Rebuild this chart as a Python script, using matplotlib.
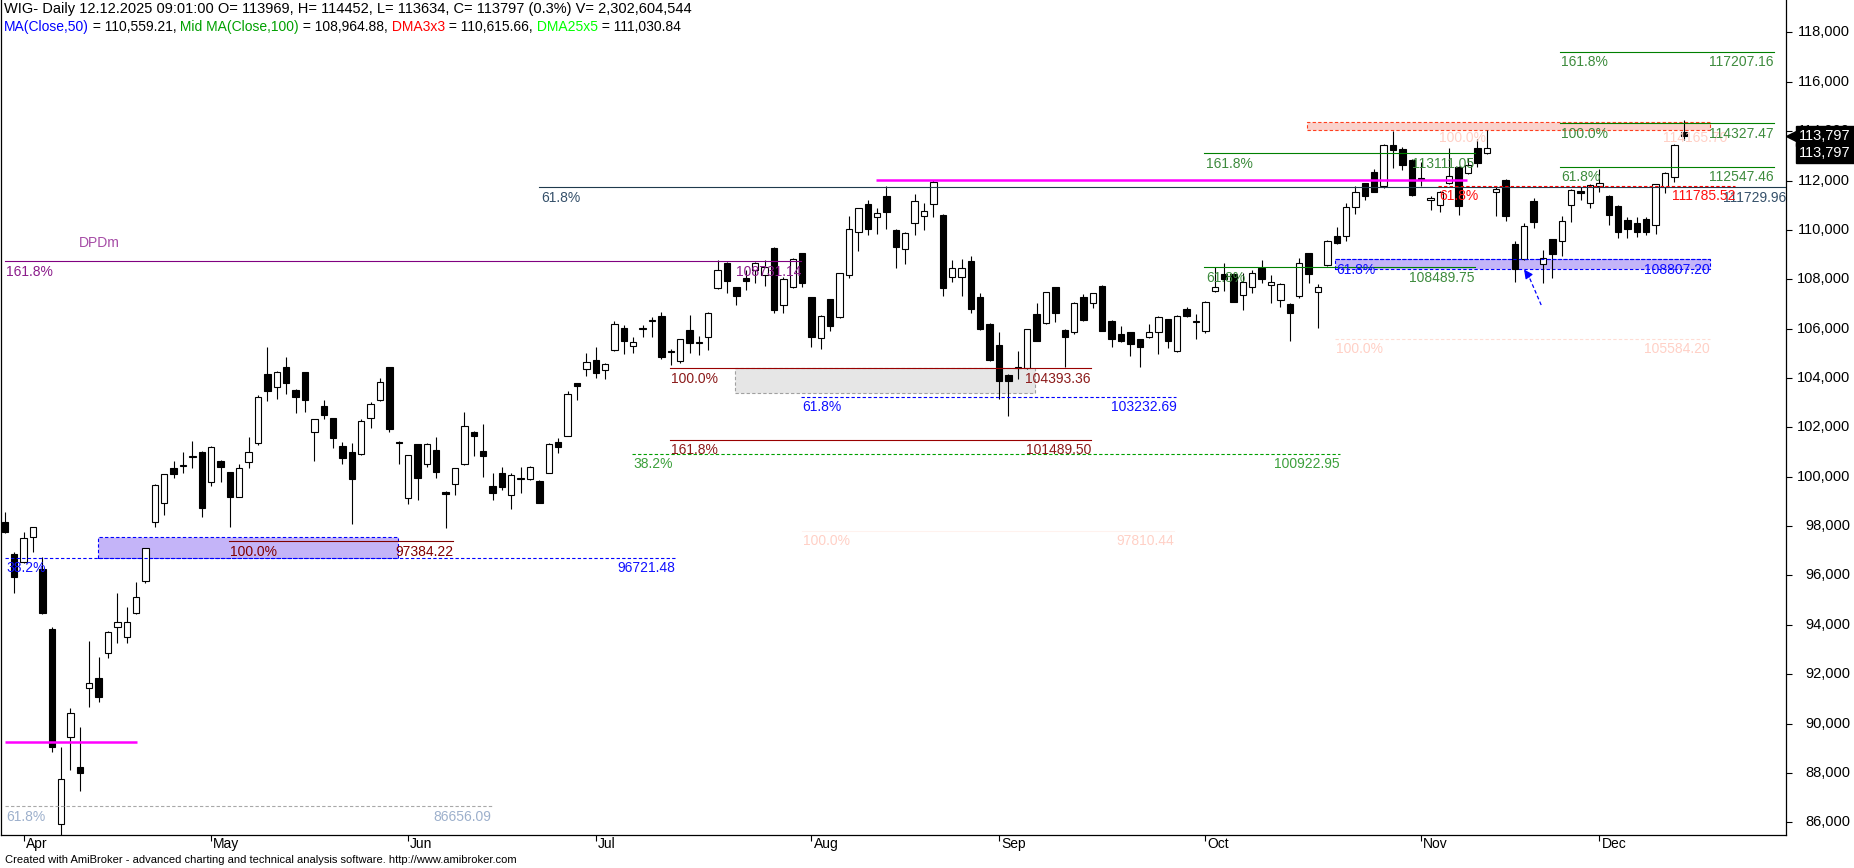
import matplotlib
matplotlib.use('Agg')
import matplotlib.pyplot as plt
import matplotlib.transforms as mtransforms
from matplotlib.patches import Rectangle

FONT = 'Liberation Sans'
plt.rcParams['font.family'] = [FONT, 'DejaVu Sans']

# ---------------- data (WIG daily, 28 Mar 2025 - 12 Dec 2025) ----------------
opens = [98178, 96869, 96533, 97546, 96249, 93819, 85918, 89467, 88252, 91428,
         91833, 92871, 93900, 93494, 94467, 95788, 98178, 98923, 100341, 100440,
         100800, 101014, 99774, 100637, 100179, 99191, 100584, 101354, 104150, 103623,
         104433, 103514, 104231, 101824, 102865, 102367, 101257, 101014, 100908, 102367,
         103108, 104433, 101419, 99126, 101314, 100503, 101083, 99393, 99705, 100503,
         101800, 101042, 99624, 100139, 99260, 99890, 99896, 99827, 100163, 101419,
         101662, 103785, 104352, 104729, 104324, 105134, 106013, 105308, 105990, 106300,
         106512, 105106, 104701, 105944, 105430, 105649, 107634, 108647, 107674, 108039,
         108375, 108173, 109279, 106957, 107699, 109052, 107269, 105608, 107188, 106483,
         108173, 109903, 111037, 110510, 111373, 109996, 109214, 110267, 110575, 111049,
         110603, 108104, 108104, 108740, 107269, 106187, 105337, 104121, 104400, 104393,
         106593, 106216, 107674, 105944, 105876, 107269, 107026, 107727, 106309, 105770,
         105851, 105568, 105673, 105851, 106378, 105094, 106795, 106256, 105916, 107512,
         108213, 108213, 107362, 107674, 108444, 107768, 107160, 106998, 107322, 109052,
         107472, 108578, 109765, 109753, 110916, 111888, 112333, 111791, 113439, 113277,
         112832, 112110, 111211, 111009, 111888, 112560, 112293, 113306, 113103, 111523,
         112021, 109416, 108809, 111183, 108606, 109619, 109550, 111009, 111590, 111078,
         111791, 111386, 110980, 110406, 110292, 110429, 110198, 111750, 112131, 113969]
highs = [98559, 96962, 97748, 97980, 96760, 93900, 89062, 90618, 89848, 93345,
         92684, 93750, 95277, 94734, 95747, 97130, 99690, 100130, 100649, 101014,
         101447, 101050, 101230, 100660, 100200, 100515, 101597, 103311, 105268, 104280,
         104863, 103560, 104255, 102350, 103108, 102390, 101395, 101380, 102340, 103039,
         103988, 104460, 101440, 100900, 101340, 101380, 101622, 99420, 100370, 102610,
         101840, 102136, 100139, 100382, 100139, 100382, 100420, 99860, 101370, 101557,
         103473, 103810, 105025, 105268, 104620, 106321, 106147, 105649, 106147, 106459,
         106661, 105160, 105600, 106552, 105701, 106670, 108780, 108680, 107700, 108375,
         108680, 108780, 109300, 108104, 108850, 109080, 107300, 106560, 107220, 108270,
         110563, 110900, 111211, 110875, 111778, 110020, 109910, 111454, 111102, 112020,
         110630, 108780, 108810, 108942, 107456, 106210, 105876, 104150, 105094, 106000,
         107051, 107500, 107700, 105970, 107080, 107403, 107460, 107750, 106340, 106106,
         105880, 105600, 106187, 106510, 106400, 106550, 106864, 106593, 107130, 108509,
         108647, 108240, 108241, 108375, 108780, 108173, 107860, 107020, 108849, 109080,
         107808, 109590, 110105, 111102, 111791, 111920, 112455, 113470, 114019, 113371,
         112860, 112763, 111386, 111570, 113306, 112590, 112901, 113670, 114047, 111750,
         112050, 109562, 110292, 111304, 109186, 109650, 110575, 111650, 111750, 111850,
         112455, 111420, 111010, 110535, 110535, 110535, 111870, 112340, 113470, 114452]
lows = [97708, 95301, 96500, 96962, 94440, 88860, 85300, 88118, 87280, 90683,
        90885, 92644, 93276, 93276, 94440, 95682, 97975, 98449, 99936, 100139,
        100366, 98356, 99624, 99798, 97951, 99160, 100341, 101285, 103080, 103149,
        103351, 102570, 102634, 100649, 102326, 101152, 100503, 98085, 100880, 101962,
        103080, 101824, 100515, 98895, 99057, 100382, 99936, 97910, 99260, 100480,
        100852, 100001, 99057, 99462, 98680, 99353, 99860, 98923, 100140, 100973,
        101640, 103108, 104081, 103988, 103959, 105100, 104960, 105025, 105649, 105649,
        104757, 104526, 104620, 105025, 104932, 105134, 107600, 107456, 106957, 107565,
        107836, 107727, 106645, 106621, 107634, 107674, 105243, 105163, 105916, 106440,
        108039, 109145, 109793, 109834, 110024, 108468, 108606, 109793, 109996, 110510,
        107334, 107901, 107334, 106621, 105960, 104700, 103137, 102472, 103947, 104360,
        105480, 106190, 106256, 104457, 105782, 106320, 106824, 105890, 105268, 105446,
        104903, 104457, 105640, 104972, 105203, 105070, 106480, 105568, 105811, 107480,
        107537, 107060, 106755, 107431, 107836, 107051, 106888, 105511, 107225, 107861,
        106013, 108550, 109430, 109562, 110632, 111211, 111520, 111685, 112495, 112430,
        111373, 111778, 110806, 110737, 111860, 110603, 112260, 112560, 113070, 110575,
        110373, 107877, 108770, 110065, 107836, 108039, 108955, 110332, 111211, 110875,
        111547, 110198, 109659, 109659, 109724, 109800, 109834, 111507, 111953, 113634]
closes = [97773, 95925, 97505, 97951, 94467, 89062, 87754, 90415, 87984, 91655,
          91088, 93721, 94126, 94126, 95139, 97100, 99652, 100098, 100110, 100460,
          100820, 98721, 101192, 100406, 99166, 100341, 100989, 103218, 103485, 104255,
          103785, 103218, 103108, 102326, 102501, 101557, 100746, 99896, 102270, 102934,
          103825, 101921, 101380, 100868, 99936, 101344, 100204, 99288, 100341, 102067,
          101662, 100852, 99325, 99571, 100070, 99930, 100382, 98948, 101344, 101192,
          103339, 103688, 104660, 104190, 104567, 106175, 105511, 105446, 106030, 106340,
          104863, 105050, 105568, 105430, 105460, 106645, 108375, 107942, 107334, 107942,
          108647, 108485, 106755, 107998, 108821, 107836, 105649, 106524, 106119, 108242,
          110024, 110875, 110036, 110672, 110737, 109319, 109886, 111183, 110766, 111953,
          107634, 108468, 108468, 106795, 105985, 104729, 103890, 103890, 104430, 105973,
          105511, 107472, 106621, 105649, 107051, 106350, 107431, 105916, 105568, 105511,
          105365, 105268, 105851, 106483, 105511, 106524, 106512, 106321, 107091, 107674,
          107998, 107091, 107901, 108266, 107998, 107901, 107808, 106621, 108671, 108201,
          107699, 109562, 109457, 110916, 111523, 111373, 111547, 113439, 113237, 112629,
          111414, 112070, 111304, 111547, 112184, 110968, 112629, 112722, 113306, 111645,
          110575, 108404, 110170, 110332, 108874, 109023, 110373, 111617, 111482, 111819,
          111888, 110603, 109903, 110024, 109927, 109927, 111847, 112317, 113439, 113797]

month_labels = ['Apr', 'May', 'Jun', 'Jul', 'Aug', 'Sep', 'Oct', 'Nov', 'Dec']
month_start_idx = [2, 22, 43, 63, 86, 106, 128, 151, 170]
price_ticks = list(range(86000, 118001, 2000))

title_line1 = "WIG- Daily 12.12.2025 09:01:00 O= 113969, H= 114452, L= 113634, C= 113797 (0.3%) V= 2,302,604,544"
title_line2 = [("MA(Close,50)", '#0000FF'), (" = 110,559.21,", '#000000'),
               (" Mid MA(Close,100)", '#00A000'), (" = 108,964.88,", '#000000'),
               (" DMA3x3", '#FF0000'), (" = 110,615.66,", '#000000'),
               (" DMA25x5", '#00FF00'), (" = 111,030.84", '#000000')]

X_RIGHT = 189.9

# Fibonacci / drawing tools: (start bar, end bar, level, left label, right label, line colour, text colour, style)
fib_lines = [
    (0.0, 84.9, 108731.14, '161.8%', '108731.14', '#800080', '#8B1C8B', '-'),
    (0.0, 51.9, 86656.09, '61.8%', '86656.09', '#A8A8A8', '#9DB0CC', '--'),
    (0.0, 71.5, 96721.48, '38.2%', '96721.48', '#0000FF', '#1010FF', '--'),
    (23.9, 47.8, 97384.22, '100.0%', '97384.22', '#800000', '#800000', '-'),
    (57.0, X_RIGHT, 111729.96, '61.8%', '111729.96', '#1F3A4D', '#35506A', '-'),
    (70.9, 115.8, 104393.36, '100.0%', '104393.36', '#990000', '#8B1A1A', '-'),
    (84.9, 124.9, 103232.69, '61.8%', '103232.69', '#0000FF', '#1010FF', '--'),
    (70.9, 115.8, 101489.50, '161.8%', '101489.50', '#990000', '#8B1A1A', '-'),
    (66.9, 142.3, 100922.95, '38.2%', '100922.95', '#00A000', '#3CA03C', '--'),
    (85.0, 124.7, 97810.44, '100.0%', '97810.44', '#FFF2EE', '#FFD0C6', '-'),
    (127.9, 156.7, 113111.05, '161.8%', '113111.05', '#008000', '#3D8B3D', '-'),
    (127.9, 156.7, 108489.75, '61.8%', '108489.75', '#008000', '#3D8B3D', '-'),
    (141.8, 181.8, 108807.20, '61.8%', '108807.20', '#0000FF', '#1010FF', '--'),
    (152.8, 184.5, 111785.52, '61.8%', '111785.52', '#FF0000', '#FF1010', '--'),
    (152.8, 183.7, 114165.70, '100.0%', '114165.70', None, '#FFD0C6', '-'),
    (165.8, 188.6, 117207.16, '161.8%', '117207.16', '#008000', '#3D8B3D', '-'),
    (165.8, 188.6, 114327.47, '100.0%', '114327.47', '#008000', '#3D8B3D', '-'),
    (165.8, 188.6, 112547.46, '61.8%', '112547.46', '#008000', '#3D8B3D', '-'),
    (141.8, 181.8, 105584.20, '100.0%', '105584.20', '#FFDCD4', '#FFD0C6', '--'),
]
# zones: (start bar, end bar, low, high, fill, edge)
zones = [
    (9.9, 41.9, 96721.48, 97546, '#C4B4F8', '#0000FF'),
    (77.8, 109.8, 103379, 104393.36, '#E6E6E6', '#A0A0A0'),
    (141.8, 181.8, 108404, 108807.20, '#C4B4F8', '#0000FF'),
    (138.8, 181.8, 114047, 114359, '#FAD2CC', '#FF4020'),
]
# magenta horizontal levels: (start bar, end bar, level)
magenta_levels = [(0.0, 14.1, 89265), (92.9, 155.9, 112021)]
dpdm_label = (7.9, 109481, 'DPDm')
arrow_tail = (163.8, 106957)
arrow_tip = (161.8, 108485)

# ---------------- figure ----------------
W, H = 1854, 868
fig = plt.figure(figsize=(W / 100, H / 100), dpi=100)
ax = fig.add_axes([1 / W, 33 / H, 1785 / W, 835 / H])
ax.set_xlim(-0.405, X_RIGHT)
ax.set_ylim(85485, 119314)
ax.set_facecolor('white')
for s in ['left', 'right', 'bottom']:
    ax.spines[s].set_linewidth(0.9)
    ax.spines[s].set_color('black')
ax.spines['top'].set_visible(False)

# zones
for x0, x1, lo, hi, fc, ec in zones:
    ax.add_patch(Rectangle((x0, lo), x1 - x0, hi - lo, facecolor=fc, edgecolor=ec,
                           lw=0.8, ls=(0, (3, 2)), zorder=1))

# candles
body_w = 0.68
for i, (o, h, l, c) in enumerate(zip(opens, highs, lows, closes)):
    ax.plot([i, i], [l, h], color='black', lw=0.8, zorder=2, solid_capstyle='butt')
    up = c >= o
    ax.add_patch(Rectangle((i - body_w / 2, min(o, c)), body_w, max(abs(c - o), 1),
                           facecolor='white' if up else 'black', edgecolor='black',
                           lw=0.8, zorder=3))

# fib lines + labels
for x0, x1, lvl, ltxt, rtxt, lc, tc, ls in fib_lines:
    if lc is not None:
        ax.plot([x0, x1], [lvl, lvl], color=lc, lw=0.8,
                ls='-' if ls == '-' else (0, (3, 2)), zorder=4)
    ax.annotate(ltxt, xy=(x0, lvl), xytext=(1, -2.5), textcoords='offset points',
                ha='left', va='top', color=tc, fontsize=10, zorder=6)
    ax.annotate(rtxt, xy=(x1, lvl), xytext=(0, -2.5), textcoords='offset points',
                ha='right', va='top', color=tc, fontsize=10, zorder=6)

for x0, x1, lvl in magenta_levels:
    ax.plot([x0, x1], [lvl, lvl], color='#FF00FF', lw=1.8, zorder=5, solid_capstyle='butt')

ax.text(dpdm_label[0], dpdm_label[1], dpdm_label[2], color='#A64CA6', fontsize=10,
        ha='left', va='center', zorder=6)

# arrow
ax.plot([arrow_tail[0], arrow_tip[0] + 0.7], [arrow_tail[1], arrow_tip[1] - 380],
        color='#0000FF', lw=0.9, ls=(0, (3, 2)), zorder=6)
ax.annotate('', xy=arrow_tip, xytext=(arrow_tip[0] + 0.9, arrow_tip[1] - 480),
            arrowprops=dict(arrowstyle='-|>', color='#0000FF', lw=0.9, mutation_scale=13),
            zorder=6)

# x axis (months)
ax.set_xticks(month_start_idx)
ax.set_xticklabels([])
ax.tick_params(axis='x', direction='out', length=4, width=0.8, color='black')
bx = mtransforms.blended_transform_factory(ax.transData, ax.transAxes)
for idx, lab in zip(month_start_idx, month_labels):
    ax.annotate(lab, xy=(idx, 0), xycoords=bx, xytext=(1.5, -6.5), textcoords='offset points',
                ha='left', va='center', fontsize=10, color='black', annotation_clip=False)

# y axis (right)
ax.yaxis.tick_right()
ax.set_yticks(price_ticks)
ax.set_yticklabels([])
ax.tick_params(axis='y', direction='out', length=4, width=0.8, color='black', left=False)
by = mtransforms.blended_transform_factory(ax.transAxes, ax.transData)
for v in price_ticks:
    ax.annotate(f'{v:,.0f}', xy=(1, v), xycoords=by, xytext=(46.1, 0), textcoords='offset points',
                ha='right', va='center', fontsize=10.5, color='black', annotation_clip=False,
                zorder=7)

# last price marker
last_close = closes[-1]
for k in range(2):
    ax.annotate(f'{last_close:,.0f}', xy=(1, last_close), xycoords=by, xytext=(9.4, -12 * k),
                textcoords='offset points', ha='left', va='center', color='white',
                fontsize=10.5, annotation_clip=False, zorder=20,
                bbox=dict(boxstyle='square,pad=0.2', fc='black', ec='black'))
tri = by + mtransforms.ScaledTranslation(4.5 / 100, 0, fig.dpi_scale_trans)
ax.plot([1.0], [last_close], marker='<', ms=7, color='black', transform=tri,
        clip_on=False, zorder=21)

# titles
renderer = fig.canvas.get_renderer()
fig.text(4 / W, 1 - 9 / H, title_line1, fontsize=10.5, color='black', ha='left', va='center')
xp = 4
for s, col in title_line2:
    t = fig.text(xp / W, 1 - 27 / H, s, fontsize=10, color=col, ha='left', va='center')
    xp += t.get_window_extent(renderer).width

fig.text(5 / W, 1 - 860 / H,
         'Created with AmiBroker - advanced charting and technical analysis software. http://www.amibroker.com',
         fontsize=8, color='black', ha='left', va='center')

fig.savefig('out.png', dpi=100, facecolor='white')
